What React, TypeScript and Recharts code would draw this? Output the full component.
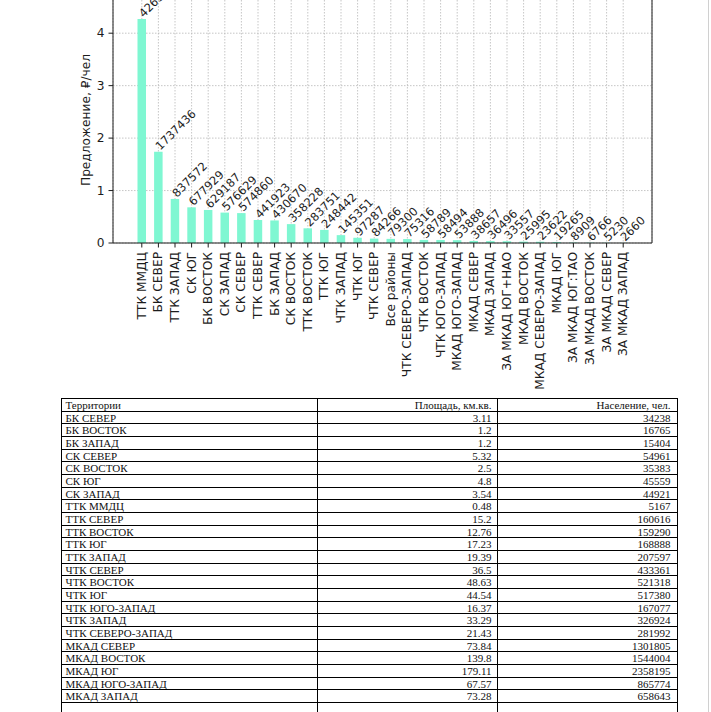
import { BarChart, Bar, XAxis, YAxis, CartesianGrid, LabelList } from "recharts";

// bar chart: territories sorted by offer per person
const categories = [
  "ТТК ММДЦ", "БК СЕВЕР", "ТТК ЗАПАД", "СК ЮГ", "БК ВОСТОК", "СК ЗАПАД", "СК СЕВЕР",
  "ТТК СЕВЕР", "БК ЗАПАД", "СК ВОСТОК", "ТТК ВОСТОК", "ТТК ЮГ", "ЧТК ЗАПАД", "ЧТК ЮГ",
  "ЧТК СЕВЕР", "Все районы", "ЧТК СЕВЕРО-ЗАПАД", "ЧТК ВОСТОК", "ЧТК ЮГО-ЗАПАД",
  "МКАД ЮГО-ЗАПАД", "МКАД СЕВЕР", "МКАД ЗАПАД", "ЗА МКАД ЮГ+НАО", "МКАД ВОСТОК",
  "МКАД СЕВЕРО-ЗАПАД", "МКАД ЮГ", "ЗА МКАД ЮГ:ТАО", "ЗА МКАД ВОСТОК", "ЗА МКАД СЕВЕР",
  "ЗА МКАД ЗАПАД",
];
const offerValues = [
  4.27, 1.74, 0.84, 0.68, 0.63, 0.58, 0.57, 0.44, 0.43, 0.36, 0.28, 0.25, 0.15, 0.1,
  0.084, 0.079, 0.075, 0.059, 0.058, 0.054, 0.039, 0.036, 0.034, 0.026, 0.024, 0.019,
  0.009, 0.007, 0.005, 0.003,
];
const totalLabels = [
  4263512, 1737436, 837572, 677929, 629187, 576629, 574860, 441923, 430670, 358228,
  283751, 248442, 145351, 97287, 84266, 79300, 75316, 58789, 58494, 53888, 38657, 36496,
  33557, 25995, 23622, 19265, 8909, 6766, 5230, 2660,
];
const yTicks = [0, 1, 2, 3, 4];

// table under the chart
const tableHeader = ["Территории", "Площадь, км.кв.", "Население, чел."];
const territories = [
  "БК СЕВЕР", "БК ВОСТОК", "БК ЗАПАД", "СК СЕВЕР", "СК ВОСТОК", "СК ЮГ", "СК ЗАПАД",
  "ТТК ММДЦ", "ТТК СЕВЕР", "ТТК ВОСТОК", "ТТК ЮГ", "ТТК ЗАПАД", "ЧТК СЕВЕР", "ЧТК ВОСТОК",
  "ЧТК ЮГ", "ЧТК ЮГО-ЗАПАД", "ЧТК ЗАПАД", "ЧТК СЕВЕРО-ЗАПАД", "МКАД СЕВЕР", "МКАД ВОСТОК",
  "МКАД ЮГ", "МКАД ЮГО-ЗАПАД", "МКАД ЗАПАД",
];
const areas = [
  "3.11", "1.2", "1.2", "5.32", "2.5", "4.8", "3.54", "0.48", "15.2", "12.76", "17.23",
  "19.39", "36.5", "48.63", "44.54", "16.37", "33.29", "21.43", "73.84", "139.8", "179.11",
  "67.57", "73.28",
];
const populations = [
  "34238", "16765", "15404", "54961", "35383", "45559", "44921", "5167", "160616", "159290",
  "168888", "207597", "433361", "521318", "517380", "167077", "326924", "281992", "1301805",
  "1544004", "2358195", "865774", "658643",
];

const chartData = categories.map((name, i) => ({
  name,
  offer: offerValues[i],
  total: totalLabels[i],
}));

const FONT = "'DejaVu Sans', sans-serif";
const INK = "#1c1c1c";
const FS = 12.2;

const XTick = (props: any) => {
  const { x, y, payload } = props;
  return (
    <text
      x={x}
      y={y}
      transform={`rotate(-90, ${x}, ${y})`}
      textAnchor="end"
      dominantBaseline="central"
      fontFamily={FONT}
      fontSize={FS}
      fill={INK}
    >
      {payload.value}
    </text>
  );
};

const YTick = (props: any) => {
  const { x, y, payload } = props;
  return (
    <text x={x} y={y} textAnchor="end" dominantBaseline="central" fontFamily={FONT} fontSize={FS} fill={INK}>
      {payload.value}
    </text>
  );
};

const ValueLabel = (props: any) => {
  const { x, y, width, value } = props;
  const cx = Number(x) + Number(width) / 2 + 2;
  const cy = Number(y) - 1;
  return (
    <text x={cx} y={cy} transform={`rotate(-45, ${cx}, ${cy})`} fontFamily={FONT} fontSize={11.5} fill={INK}>
      {value}
    </text>
  );
};

const YLabel = (props: any) => {
  const { viewBox } = props;
  const cy = viewBox.y + viewBox.height / 2;
  const cx = 86;
  return (
    <text
      x={cx}
      y={cy}
      transform={`rotate(-90, ${cx}, ${cy})`}
      textAnchor="middle"
      dominantBaseline="central"
      fontFamily={FONT}
      fontSize={FS}
      fill={INK}
    >
      Предложение, ₽/чел
    </text>
  );
};

const TABLE_TOP = 398;
const ROW_H = 12.67;
const COLS = [60.5, 316.5, 496.5, 676.5];

function DataTable() {
  const rows = [tableHeader, ...territories.map((t, i) => [t, areas[i], populations[i]])];
  const cellStyle = {
    position: "absolute" as const,
    height: ROW_H,
    lineHeight: `${ROW_H}px`,
    fontFamily: "'Liberation Serif', 'Times New Roman', serif",
    fontSize: 11,
    color: "#111",
    whiteSpace: "nowrap" as const,
  };
  return (
    <>
      {rows.map((r, i) => {
        const top = TABLE_TOP + i * ROW_H;
        return (
          <div key={i}>
            <div style={{ position: "absolute", left: COLS[0], top, width: COLS[3] - COLS[0] + 1, height: 1, background: "#000" }} />
            <div style={{ ...cellStyle, top: top + 1, left: COLS[0] + 5 }}>{r[0]}</div>
            <div style={{ ...cellStyle, top: top + 1, left: COLS[1], width: COLS[2] - COLS[1] - 5, textAlign: "right" }}>{r[1]}</div>
            <div style={{ ...cellStyle, top: top + 1, left: COLS[2], width: COLS[3] - COLS[2] - 6, textAlign: "right" }}>{r[2]}</div>
          </div>
        );
      })}
      <div style={{ position: "absolute", left: COLS[0], top: TABLE_TOP + rows.length * ROW_H, width: COLS[3] - COLS[0] + 1, height: 1, background: "#000" }} />
      {COLS.map((c) => (
        <div key={c} style={{ position: "absolute", left: c, top: TABLE_TOP, width: 1, height: 712 - TABLE_TOP, background: "#000" }} />
      ))}
    </>
  );
}

export default function App() {
  return (
    <div style={{ position: "absolute", left: 0, top: 0, width: 711, height: 712, overflow: "hidden", background: "#fff" }}>
      <div style={{ position: "absolute", left: 0, top: -23 }}>
        <BarChart width={711} height={436} data={chartData} margin={{ top: 20, right: 58, left: 0, bottom: 0 }}>
          <CartesianGrid stroke="#b8b8b8" strokeDasharray="1.5 1.5" strokeWidth={0.8} />
          <XAxis
            dataKey="name"
            interval={0}
            height={170}
            padding={{ left: 20.5, right: 20.5 }}
            tick={<XTick />}
            tickSize={4.5}
            tickMargin={4.5}
            axisLine={{ stroke: INK, strokeWidth: 1 }}
            tickLine={{ stroke: INK, strokeWidth: 1 }}
          />
          <YAxis
            width={113}
            domain={[0, 4.69]}
            ticks={yTicks}
            tick={<YTick />}
            tickSize={4.5}
            tickMargin={4}
            axisLine={{ stroke: INK, strokeWidth: 1 }}
            tickLine={{ stroke: INK, strokeWidth: 1 }}
            label={<YLabel />}
          />
          <YAxis
            yAxisId="right"
            orientation="right"
            width={1}
            domain={[0, 1]}
            tick={false}
            tickLine={false}
            axisLine={{ stroke: INK, strokeWidth: 1 }}
          />
          <Bar dataKey="offer" fill="#7ff7d2" barSize={8.5} isAnimationActive={false}>
            <LabelList dataKey="total" content={<ValueLabel />} />
          </Bar>
        </BarChart>
      </div>
      <DataTable />
      <div style={{ position: "absolute", left: 708, top: 0, width: 1, height: 712, background: "#d0d0d0" }} />
    </div>
  );
}
